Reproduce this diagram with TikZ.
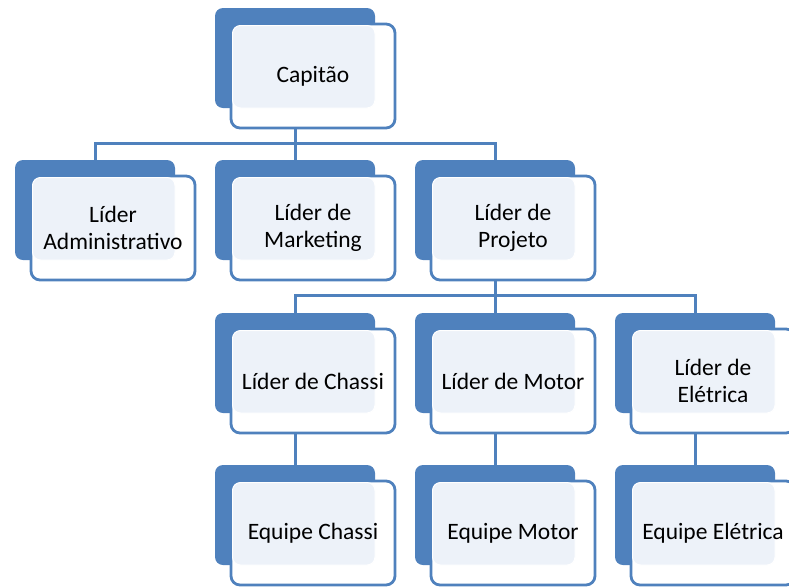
\documentclass[tikz,border=0pt]{standalone}
\usepackage{fontspec}
\setmainfont{Carlito}
\usetikzlibrary{positioning}
\definecolor{orgblue}{RGB}{79,129,189}
\definecolor{orglight}{RGB}{237,242,249}
\begin{document}
\begin{tikzpicture}[x=1pt, y=-1pt,
  backbox/.style={fill=orgblue, rounded corners=8pt, minimum width=160pt, minimum height=100pt, inner sep=0pt, outer sep=0pt},
  frontbox/.style={fill=white, draw=orgblue, line width=2.8pt, rounded corners=9pt, minimum width=164pt, minimum height=104pt, inner sep=0pt, outer sep=0pt},
  unittext/.style={align=center, text=black, font=\fontsize{23.5}{27}\selectfont},
  conn/.style={draw=orgblue, line width=3pt}]
  \useasboundingbox (0,0) rectangle (789,587);
  \clip (0,0) rectangle (789,587);
  % units: name / x / y of the back card / label
  \foreach \nm/\x/\y/\txt in {cap/215/8/Capitão,
      adm/15/160/{Líder\\Administrativo}, mkt/215/160/{Líder de\\Marketing}, prj/415/160/{Líder de\\Projeto},
      cha/215/313/Líder de Chassi, mot/415/313/Líder de Motor, ele/615/313/{Líder de\\Elétrica},
      ech/215/465/Equipe Chassi, emo/415/465/Equipe Motor, eel/615/465/Equipe Elétrica} {
    \node[backbox, anchor=north west] (\nm-b) at (\x,\y) {};
    \node[frontbox, anchor=north west] (\nm) at (\x+16,\y+16) {};
    \fill[orglight, draw=white, line width=1pt, rounded corners=8pt]
      ([shift={(1.5,1.5)}]\nm.north west) rectangle (\nm-b.south east);
    \node[unittext] (\nm-t) at (\nm) {\txt};
  }
  % connectors
  \draw[conn] (cap-b.south |- cap.south) -- ++(0,15) coordinate (bus-a);
  \draw[conn] (adm-b.north) |- (bus-a) -| (prj-b.north);
  \draw[conn] (bus-a) -- (mkt-b.north);
  \draw[conn] (prj-b.south |- prj.south) -- ++(0,15) coordinate (bus-b);
  \draw[conn] (cha-b.north) |- (bus-b) -| (ele-b.north);
  \draw[conn] (bus-b) -- (mot-b.north);
  \foreach \up/\dn in {cha/ech, mot/emo, ele/eel}
    \draw[conn] (\up-b.south |- \up.south) -- (\dn-b.north);
\end{tikzpicture}
\end{document}
